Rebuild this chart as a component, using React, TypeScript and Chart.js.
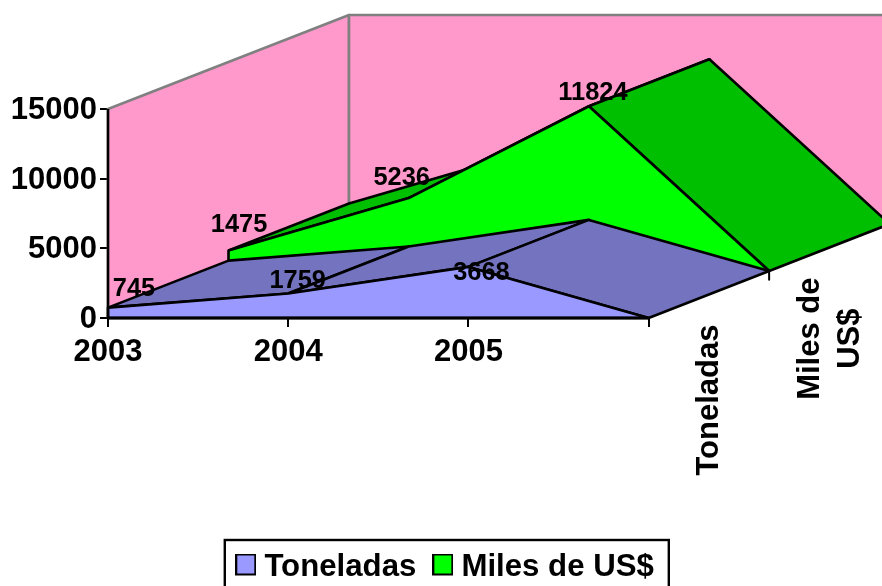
import { useEffect, useRef } from "react";
import { Chart, registerables } from "chart.js";

Chart.register(...registerables);

// ---- data ----
const categories = ["2003", "2004", "2005", ""];
const toneladas = [745, 1759, 3668, 0];
const milesUS = [1475, 5236, 11824, 0];
const yTicks = [0, 5000, 10000, 15000];
const seriesNames = ["Toneladas", "Miles de US$"];
const depthLabels = [["Toneladas"], ["Miles de", "US$"]];

// ---- styling / projection ----
const FONT = "'Liberation Sans', Arial, sans-serif";
const PINK = "#FF99CC";
const FRONT = ["#9999FF", "#00FF00"];
const ROOF = ["#7373BF", "#00BF00"];
const GRAY = "#808080";
const DEPTH_X = 0.6687; // category units per series of depth
const DEPTH_Y = 3373; // value units per series of depth
const X_MAX = 4.295;
const Y_MAX = 22823;
// label nudges in px (value labels were placed by hand in the original)
const labelNudge = [
  [[26, -19], [9.5, -12], [13, 6]],
  [[10.5, -25], [-7, -20], [4, -13]],
];

const P = (i: number, v: number, d: number) => ({ x: i + d * DEPTH_X, y: v + d * DEPTH_Y });

function poly(data: any[], fillColor: string | null, border: string, width = 2.6, extra: any = {}) {
  return {
    type: "scatter",
    showLine: true,
    data: fillColor ? [...data, data[0]] : data,
    fill: fillColor ? "shape" : false,
    backgroundColor: fillColor ?? "transparent",
    borderColor: border,
    borderWidth: width,
    borderJoinStyle: "round",
    borderCapStyle: "butt",
    pointRadius: 0,
    pointHoverRadius: 0,
    tension: 0,
    clip: false,
    ...extra,
  };
}

function buildDatasets() {
  const sets: any[] = [];
  const last = categories.length - 1;
  // walls
  sets.push(poly([P(0, 0, 0), P(0, yTicks[3], 0), P(0, yTicks[3], 2), P(0, 0, 2)], PINK, GRAY, 2.6));
  sets.push(poly([P(0, 0, 2), P(0, yTicks[3], 2), P(last, yTicks[3], 2), P(last, 0, 2)], PINK, GRAY, 2.6));
  // series, back to front
  [milesUS, toneladas].forEach((vals, k) => {
    const s = k === 0 ? 1 : 0; // series index
    for (let i = 0; i < last; i++) {
      sets.push(poly([P(i, vals[i], s), P(i + 1, vals[i + 1], s), P(i + 1, vals[i + 1], s + 1), P(i, vals[i], s + 1)], ROOF[s], "#000"));
    }
    const face = [P(0, 0, s), ...vals.map((v, i) => P(i, v, s))];
    sets.push(poly(face, FRONT[s], "#000", 2.6, { label: seriesNames[s], seriesIndex: s }));
  });
  // axis lines
  sets.push(poly([P(0, 0, 0), P(0, yTicks[3], 0)], null, "#000", 2.5));
  sets.push(poly([P(0, 0, 0), P(last, 0, 0)], null, "#000", 3));
  // depth axis tick
  sets.push(poly([P(last, 0, 1), { x: last + DEPTH_X, y: DEPTH_Y - 620 }], null, "#000", 2));
  // painter's order: later entries on top
  sets.forEach((s, i) => (s.order = sets.length - i));
  return sets;
}

function swatch(color: string) {
  const c = document.createElement("canvas");
  c.width = 21;
  c.height = 28;
  const g = c.getContext("2d")!;
  g.fillStyle = color;
  g.fillRect(1, 1, 19, 20);
  g.strokeStyle = "#000";
  g.lineWidth = 2;
  g.strokeRect(1, 1, 19, 20);
  return c;
}

const overlay = {
  id: "overlay",
  afterLayout(chart: any) {
    const lg = chart.legend;
    if (!lg) return;
    lg.left += 7.3;
    lg.right += 7.3;
    lg.top = 528.4;
    lg.bottom = 640;
  },
  afterDatasetsDraw(chart: any) {
    const { ctx, scales } = chart;
    const { x, y } = scales;
    ctx.save();
    ctx.fillStyle = "#000";
    ctx.textAlign = "center";
    ctx.textBaseline = "middle";
    // value labels
    ctx.font = `bold 25.4px ${FONT}`;
    [toneladas, milesUS].forEach((vals, s) => {
      vals.slice(0, 3).forEach((v, i) => {
        const p = P(i, v, s);
        const [nx, ny] = labelNudge[s][i];
        ctx.fillText(String(v), x.getPixelForValue(p.x) + nx, y.getPixelForValue(p.y) + ny);
      });
    });
    // depth axis labels
    ctx.font = `bold 31px ${FONT}`;
    depthLabels.forEach((lines, s) => {
      const p = P(categories.length - 1, 0, s + 0.5);
      const px = x.getPixelForValue(p.x);
      const py = y.getPixelForValue(p.y) + 30;
      const widest = Math.max(...lines.map((l) => ctx.measureText(l).width));
      lines.forEach((l, j) => {
        ctx.save();
        ctx.translate(px + (j - (lines.length - 1) / 2) * 40 + 1, py + widest / 2);
        ctx.rotate(-Math.PI / 2);
        ctx.fillText(l, 0, 0);
        ctx.restore();
      });
    });
    ctx.restore();
  },
  afterDraw(chart: any) {
    const { ctx, legend } = chart;
    const hb = legend?.legendHitBoxes;
    if (!hb?.length) return;
    const left = hb[0].left - 18;
    const right = hb[hb.length - 1].left + hb[hb.length - 1].width + 15;
    ctx.save();
    ctx.strokeStyle = "#000";
    ctx.lineWidth = 2.4;
    ctx.strokeRect(left, 540, right - left, 60);
    ctx.restore();
  },
};

export default function App() {
  const ref = useRef<HTMLCanvasElement>(null);
  useEffect(() => {
    const chart = new Chart(ref.current!, {
      type: "scatter",
      data: { datasets: buildDatasets() as any },
      plugins: [overlay as any],
      options: {
        responsive: false,
        animation: false,
        layout: { padding: 0 },
        scales: {
          x: {
            type: "linear",
            min: 0,
            max: X_MAX,
            afterBuildTicks: (s: any) => {
              s.ticks = categories.map((_, i) => ({ value: i }));
            },
            afterFit: (s: any) => {
              s.height = 268 - (s.chart.legend?.height ?? 0);
              s.paddingLeft = 0;
              s.paddingRight = 0;
            },
            border: { display: false },
            grid: { display: true, drawOnChartArea: false, drawTicks: true, tickLength: 9, color: "#000", lineWidth: 2 },
            ticks: {
              autoSkip: false,
              maxRotation: 0,
              padding: 7,
              color: "#000",
              font: { family: FONT, size: 31, weight: "bold" },
              callback: (v: any) => categories[Number(v)] ?? "",
            },
          },
          y: {
            type: "linear",
            min: 0,
            max: Y_MAX,
            afterBuildTicks: (s: any) => {
              s.ticks = yTicks.map((value) => ({ value }));
            },
            afterFit: (s: any) => {
              s.width = 108;
              s.paddingTop = 0;
              s.paddingBottom = 0;
            },
            border: { display: false },
            grid: { display: true, drawOnChartArea: false, drawTicks: true, tickLength: 8, color: "#000", lineWidth: 2 },
            ticks: {
              padding: 3,
              labelOffset: 1.5,
              color: "#000",
              font: { family: FONT, size: 31, weight: "bold" },
              callback: (v: any) => String(v),
            },
          },
        },
        plugins: {
          tooltip: { enabled: false },
          title: { display: false },
          legend: {
            position: "bottom",
            labels: {
              usePointStyle: true,
              boxWidth: 6,
              boxHeight: 20,
              padding: 23.5,
              color: "#000",
              font: { family: FONT, size: 31.2, weight: "bold" },
              generateLabels: () =>
                seriesNames.map((text, i) => ({
                  text,
                  fontColor: "#000",
                  pointStyle: swatch(FRONT[i]),
                  hidden: false,
                  lineWidth: 0,
                })),
            },
          },
        },
      } as any,
    });
    return () => chart.destroy();
  }, []);
  return (
    <div style={{ position: "absolute", left: 0, top: 0, width: 882, height: 586, overflow: "hidden", background: "#fff" }}>
      <canvas ref={ref} width={882} height={586} style={{ display: "block" }} />
    </div>
  );
}
